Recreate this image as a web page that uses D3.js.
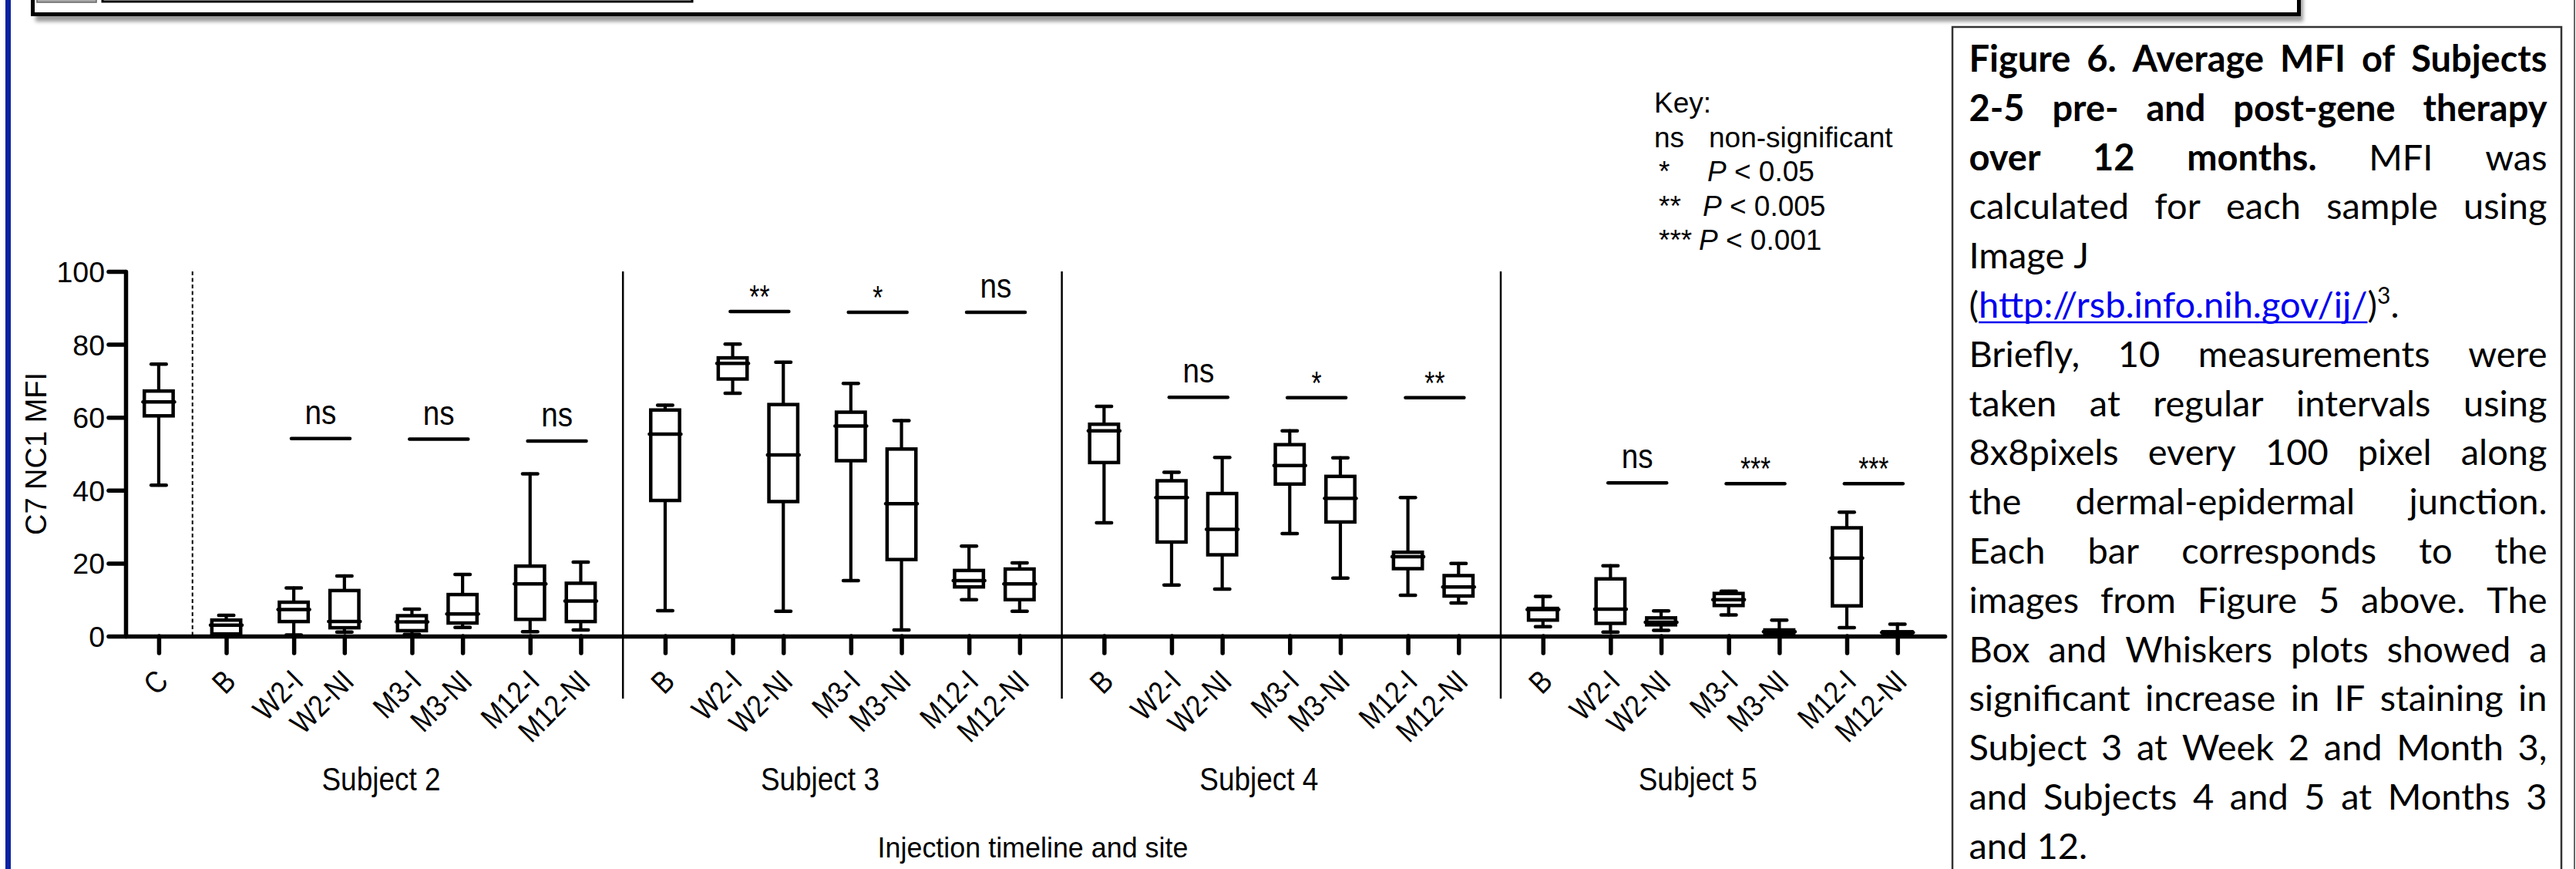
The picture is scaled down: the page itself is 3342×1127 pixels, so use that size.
<!DOCTYPE html>
<html>
<head>
<meta charset="utf-8">
<script src="https://cdn.jsdelivr.net/npm/d3@7"></script>
<style>
    body { margin: 0; background: #fff; }
    svg { display: block; }
    .ax text { font-family: 'Liberation Sans', Arial, sans-serif; fill: #000; }
</style>
</head>
<body>
<svg id="fig" width="3342" height="1127"></svg>
<script>
// ---- data: [min, q1, median, q3, max] ----
var yTicks = [0, 20, 40, 60, 80, 100];
var timepoints = ['B', 'W2-I', 'W2-NI', 'M3-I', 'M3-NI', 'M12-I', 'M12-NI'];
var subjects = ['Subject 2', 'Subject 3', 'Subject 4', 'Subject 5'];

var control = [41.4, 60.4, 64.2, 67.2, 74.6];
var subject2 = [
    [0.2, 0.6, 3.0, 4.4, 5.7],
    [0.3, 4.0, 7.3, 9.3, 13.2],
    [1.1, 2.3, 4.0, 12.5, 16.5],
    [0.5, 1.5, 3.9, 5.6, 7.4],
    [2.4, 3.6, 6.1, 11.4, 16.9],
    [1.2, 4.6, 14.3, 19.2, 44.5],
    [1.7, 4.0, 9.6, 14.5, 20.3]
];
var subject3 = [
    [7.0, 37.2, 55.4, 62.0, 63.3],
    [66.6, 70.5, 74.8, 76.3, 80.1],
    [6.8, 36.9, 49.7, 63.5, 75.1],
    [15.2, 48.1, 57.6, 61.4, 69.3],
    [1.7, 21.0, 36.3, 51.3, 59.1],
    [10.0, 13.5, 15.2, 18.0, 24.7],
    [6.8, 10.0, 14.3, 18.4, 20.1]
];
var subject4 = [
    [31.1, 47.6, 56.3, 58.1, 63.0],
    [14.0, 25.8, 38.0, 42.6, 44.9],
    [12.9, 22.3, 29.3, 39.1, 49.0],
    [28.1, 41.7, 46.8, 52.5, 56.3],
    [15.9, 31.3, 37.8, 43.8, 48.9],
    [11.2, 18.5, 21.8, 23.0, 38.0],
    [9.1, 11.0, 13.5, 16.6, 19.9]
];
var subject5 = [
    [2.6, 4.4, 7.3, 7.6, 10.9],
    [1.1, 3.5, 7.4, 15.7, 19.3],
    [1.6, 3.1, 3.8, 5.0, 6.9],
    [5.8, 8.4, 10.0, 11.7, 12.3],
    [0.2, 0.5, 1.2, 1.7, 4.4],
    [2.3, 8.3, 21.4, 29.7, 34.0],
    [0.1, 0.3, 1.0, 1.2, 3.3]
];
var subjectData = [subject2, subject3, subject4, subject5];

// significance bars over the W2, M3, M12 pairs
var sigLabels = [['ns', 'ns', 'ns'], ['**', '*', 'ns'], ['ns', '*', '**'], ['ns', '***', '***']];
var sigLevels = [[54.2, 54.0, 53.5], [89.0, 88.8, 88.8], [65.5, 65.4, 65.4], [42.0, 41.8, 41.8]];

var keyRows = [['ns', 'non-significant'], ['*', '0.05'], ['**', '0.005'], ['***', '0.001']];

var captionLines = [
    'Figure 6. Average MFI of Subjects',
    '2-5 pre- and post-gene therapy',
    'over 12 months. MFI was',
    'calculated for each sample using',
    'Image J',
    '(http://rsb.info.nih.gov/ij/)3.',
    'Briefly, 10 measurements were',
    'taken at regular intervals using',
    '8x8pixels every 100 pixel along',
    'the dermal-epidermal junction.',
    'Each bar corresponds to the',
    'images from Figure 5 above. The',
    'Box and Whiskers plots showed a',
    'significant increase in IF staining in',
    'Subject 3 at Week 2 and Month 3,',
    'and Subjects 4 and 5 at Months 3',
    'and 12.'
];
var captionBoldWords = 14;
var captionLink = 'http://rsb.info.nih.gov/ij/';

var svg = d3.select('#fig');
var FONT = "'Liberation Sans', Arial, sans-serif";

// narrow, tall lettering of the exported graph
function squeezed(sel, px, py, sx) {
    return sel.attr('x', 0).attr('y', 0)
        .attr('transform', 'translate(' + px + ',' + py + ') scale(' + sx + ',1)');
}

// ---- page furniture ----
var defs = svg.append('defs');
defs.append('filter').attr('id', 'blur').append('feGaussianBlur').attr('stdDeviation', 2.5);

svg.append('rect').attr('x', 46).attr('y', -20).attr('width', 2942).attr('height', 48)
    .attr('fill', '#9a9a9a').attr('filter', 'url(#blur)');
svg.append('rect').attr('x', 42.5).attr('y', -20).attr('width', 2940).attr('height', 38.5)
    .attr('fill', '#fff').attr('stroke', '#000').attr('stroke-width', 5);
svg.append('rect').attr('x', 48).attr('y', -20).attr('width', 77).attr('height', 23)
    .attr('fill', '#a8a8a8').attr('stroke', '#666').attr('stroke-width', 1.5);
svg.append('rect').attr('x', 133).attr('y', -20).attr('width', 765).attr('height', 22)
    .attr('fill', '#fff').attr('stroke', '#000').attr('stroke-width', 3);
svg.append('rect').attr('x', 656).attr('y', -20).attr('width', 53).attr('height', 20)
    .attr('fill', '#c8c8c8');

svg.append('rect').attr('x', 7).attr('y', 0).attr('width', 7).attr('height', 1127).attr('fill', '#0b21a0');
svg.append('line').attr('x1', 3340).attr('x2', 3340).attr('y1', 0).attr('y2', 1127)
    .attr('stroke', '#666').attr('stroke-width', 2);

// ---- scales ----
function slotOf(s, t) {
    var off = t === 0 ? 0 : 4 + 7 * Math.floor((t - 1) / 2) + 3 * ((t - 1) % 2);
    return 4 + 26 * s + off;
}
var x = d3.scaleLinear().domain([-1.96, 105.8]).range([163, 2523]);
var y = d3.scaleLinear().domain([0, 100]).range([825, 352]);

var boxes = [{ label: 'C', slot: 0, v: control }];
subjectData.forEach(function (rows, s) {
    rows.forEach(function (v, t) {
        boxes.push({ label: timepoints[t], slot: slotOf(s, t), v: v });
    });
});

// separators
svg.append('line').attr('x1', x(2)).attr('x2', x(2)).attr('y1', y(100)).attr('y2', y(0))
    .attr('stroke', '#000').attr('stroke-width', 2).attr('stroke-dasharray', '5,3.5');
svg.selectAll('.sep').data([0, 1, 2]).enter().append('line')
    .attr('x1', d => x(27.5 + 26 * d)).attr('x2', d => x(27.5 + 26 * d))
    .attr('y1', y(100)).attr('y2', 906)
    .attr('stroke', '#000').attr('stroke-width', 2.5);

// ---- boxes ----
var bw = 37.4;
var gb = svg.selectAll('.box').data(boxes).enter().append('g')
    .attr('transform', d => 'translate(' + x(d.slot) + ',0)')
    .attr('stroke', '#000').attr('stroke-linecap', 'round');
gb.append('line').attr('y1', d => y(d.v[0])).attr('y2', d => y(d.v[4])).attr('stroke-width', 4.2);
gb.append('line').attr('x1', -9.8).attr('x2', 9.8).attr('y1', d => y(d.v[0])).attr('y2', d => y(d.v[0])).attr('stroke-width', 4.5);
gb.append('line').attr('x1', -9.8).attr('x2', 9.8).attr('y1', d => y(d.v[4])).attr('y2', d => y(d.v[4])).attr('stroke-width', 4.5);
gb.append('rect').attr('x', -bw / 2).attr('width', bw)
    .attr('y', d => y(d.v[3])).attr('height', d => y(d.v[1]) - y(d.v[3]))
    .attr('fill', '#fff').attr('stroke-width', 4.5);
gb.append('line').attr('x1', -20.5).attr('x2', 20.5).attr('y1', d => y(d.v[2])).attr('y2', d => y(d.v[2])).attr('stroke-width', 4.5);

// ---- axes ----
var yAx = svg.append('g').attr('class', 'ax').attr('transform', 'translate(163,0)')
    .call(d3.axisLeft(y).tickValues(yTicks).tickSize(22).tickSizeOuter(0).tickPadding(5));
yAx.selectAll('path, line').attr('stroke', '#000').attr('stroke-width', 5.5).attr('stroke-linecap', 'round');
yAx.selectAll('text').attr('font-size', 37.5).attr('dy', '0.36em');

var xAx = svg.append('g').attr('class', 'ax').attr('transform', 'translate(0,' + y(0) + ')')
    .call(d3.axisBottom(x).tickValues(boxes.map(d => d.slot))
        .tickFormat((d, i) => boxes[i].label).tickSize(22).tickSizeOuter(0));
xAx.selectAll('path, line').attr('stroke', '#000').attr('stroke-width', 5.5).attr('stroke-linecap', 'round');
xAx.selectAll('text').attr('font-size', 40).attr('y', 0).attr('dy', 0)
    .attr('text-anchor', 'end').attr('transform', 'translate(14,61) rotate(-45) scale(0.85,1)');
svg.selectAll('.ax .domain').attr('fill', 'none');

svg.append('text').attr('transform', 'translate(60,' + y(50) + ') rotate(-90)')
    .attr('text-anchor', 'middle').attr('font-family', FONT).attr('font-size', 38)
    .text('C7 NC1 MFI');

svg.selectAll('.subj').data(subjects).enter().append('text')
    .each(function (d, i) { squeezed(d3.select(this), x(4 + 26 * i + 10.5) - 29, 1025, 0.88); })
    .attr('text-anchor', 'middle').attr('font-family', FONT).attr('font-size', 42)
    .text(d => d);

svg.append('text')
    .call(squeezed, (x.range()[0] + x.range()[1]) / 2 - 3, 1112, 0.97)
    .attr('text-anchor', 'middle').attr('font-family', FONT).attr('font-size', 37)
    .text('Injection timeline and site');

// ---- significance bars ----
var sigs = [];
sigLabels.forEach(function (row, s) {
    row.forEach(function (lab, p) {
        var mid = (x(slotOf(s, 1 + 2 * p)) + x(slotOf(s, 2 + 2 * p))) / 2 + 2;
        sigs.push({ mid: mid, lab: lab, lev: sigLevels[s][p] });
    });
});
svg.selectAll('.sigl').data(sigs).enter().append('line')
    .attr('x1', d => d.mid - 38).attr('x2', d => d.mid + 38)
    .attr('y1', d => y(d.lev)).attr('y2', d => y(d.lev))
    .attr('stroke', '#000').attr('stroke-width', 4.5).attr('stroke-linecap', 'round');
svg.selectAll('.sigt').data(sigs).enter().append('text')
    .each(function (d) {
        var ns = d.lab === 'ns';
        squeezed(d3.select(this), d.mid, y(d.lev) - (ns ? 19 : 5), ns ? 0.86 : 0.8);
    })
    .attr('text-anchor', 'middle').attr('font-family', FONT)
    .attr('font-size', d => d.lab === 'ns' ? 45 : 42)
    .text(d => d.lab);

// ---- key ----
var key = svg.append('g').attr('font-family', FONT).attr('font-size', 37);
key.append('text').attr('x', 2146).attr('y', 146).text('Key:');
var keyX = [2217, 2215, 2209, 2204];
keyRows.forEach(function (r, i) {
    var yy = 190.5 + 44.5 * i;
    key.append('text').attr('x', i === 0 ? 2146 : 2152).attr('y', yy).text(r[0]);
    var t = key.append('text').attr('x', keyX[i]).attr('y', yy);
    if (i === 0) {
        t.text(r[1]);
    } else {
        t.append('tspan').attr('font-style', 'italic').text('P');
        t.append('tspan').text(' < ' + r[1]);
    }
});

// ---- caption panel ----
svg.append('rect').attr('x', 2533).attr('y', 35).attr('width', 790).attr('height', 1200)
    .attr('fill', 'none').attr('stroke', '#333').attr('stroke-width', 2.5);

var capLeft = 2554.5, capW = 750, capFs = 47;
var cap = svg.append('g').attr('font-family', "Lato, 'Open Sans', sans-serif").attr('font-size', capFs);
var ragged = [4, 5, 16];
var wordIdx = 0;
var lines = captionLines.map(function (str, li) {
    var parts;
    if (li === 5) {
        parts = [{ t: '(' }, { t: captionLink, link: true }, { t: ')' }, { t: '3', sup: true }, { t: '.' }];
        return { li: li, words: [parts], ragged: true };
    }
    var words = str.split(' ').map(function (w) {
        var bold = wordIdx < captionBoldWords;
        wordIdx++;
        return [{ t: w, bold: bold }];
    });
    return { li: li, words: words, ragged: ragged.indexOf(li) >= 0 };
});

function measure(text, bold) {
    var t = cap.append('text').attr('font-weight', bold ? 700 : 400).text(text);
    var w = t.node().getComputedTextLength();
    t.remove();
    return w;
}
var spaceW = measure('a a') - measure('aa');

lines.forEach(function (ln) {
    ln.g = cap.append('g');
    ln.items = ln.words.map(function (parts) {
        var wg = ln.g.append('g'), cx = 0;
        parts.forEach(function (p) {
            var t = wg.append('text').attr('x', cx).attr('y', 0)
                .attr('font-weight', p.bold ? 700 : 400).text(p.t);
            if (p.sup) t.attr('font-size', 30).attr('y', -18);
            if (p.link) t.attr('fill', '#0000ee');
            var w = t.node().getComputedTextLength();
            if (p.link) {
                wg.append('line').attr('x1', cx).attr('x2', cx + w).attr('y1', 6).attr('y2', 6)
                    .attr('stroke', '#0000ee').attr('stroke-width', 2.5);
            }
            cx += w;
        });
        return { g: wg, w: cx };
    });
    ln.sum = d3.sum(ln.items, d => d.w);
    ln.natural = ln.sum + spaceW * (ln.items.length - 1);
});

var sx = Math.min(1, capW / d3.max(lines.filter(l => !l.ragged), l => l.natural));
var capWv = capW / sx;
lines.forEach(function (ln) {
    var gap = ln.ragged || ln.items.length < 2 ? spaceW : (capWv - ln.sum) / (ln.items.length - 1);
    var cx = 0;
    ln.items.forEach(function (it) {
        it.g.attr('transform', 'translate(' + cx + ',0)');
        cx += it.w + gap;
    });
    ln.g.attr('transform', 'translate(' + capLeft + ',' + (93 + 63.8 * ln.li) + ') scale(' + sx + ',1)');
});
</script>
</body>
</html>
